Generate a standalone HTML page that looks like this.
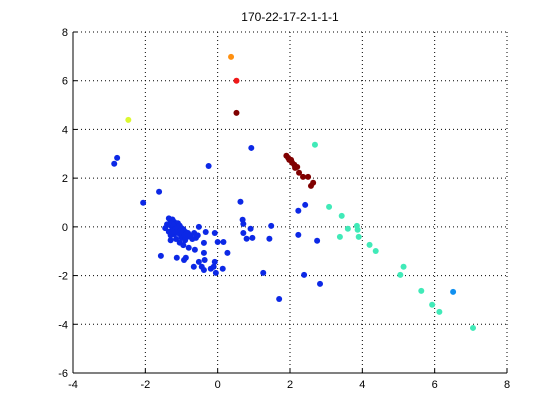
<!DOCTYPE html>
<html><head><meta charset="utf-8"><style>
html,body{margin:0;padding:0;background:#fff;}
svg{display:block;font-family:"Liberation Sans",sans-serif;}
</style></head><body>
<svg id="chart" width="560" height="420">
<rect width="560" height="420" fill="#fff"/>
<text x="290" y="21" font-size="12" text-anchor="middle">170-22-17-2-1-1-1</text>
<g id="grid"></g>
<g id="axes"></g>
<g id="marks"></g>
</svg>
<script>
const xTicks=[-4,-2,0,2,4,6,8];
const yTicks=[-6,-4,-2,0,2,4,6,8];
const blueX=[-1.62,-2.06,-2.78,-2.86,-0.25,0.93,-1.35,-1.3,-1.25,-1.2,-1.4,-1.3,-1.2,-1.1,-1.15,-1.05,-1.0,-1.25,-1.35,-1.1,-0.95,-0.9,-1.2,-1.05,-0.85,-0.8,-1.0,-0.7,-0.75,-0.6,-1.3,-1.45,-0.9,-1.15,-1.3,-0.65,-0.55,-1.05,-0.95,-0.52,-0.33,-0.08,-0.38,0,0.16,0.27,-0.38,-1.57,-1.13,-0.93,-0.88,-0.63,-0.8,-0.52,-0.36,-0.66,-0.44,-0.38,-0.19,-0.11,-0.08,-0.05,0.14,0.63,0.69,0.71,0.91,0.71,0.8,0.96,1.26,1.48,1.43,2.23,2.42,2.23,2.75,2.39,2.83,1.7,-1.28,-1.22,-1.18,-1.12,-1.08,-1.02,-0.98,-0.92,-1.16,-1.24,-0.88,-0.82];
const blueY=[1.44,0.99,2.83,2.59,2.5,3.24,0.35,0.25,0.3,0.2,0.1,0.05,0.1,0.15,0.0,0.05,-0.05,-0.1,-0.2,-0.15,-0.1,-0.2,-0.3,-0.3,-0.3,-0.4,-0.45,-0.5,-0.35,-0.45,-0.35,-0.05,-0.55,-0.5,-0.55,-0.25,-0.35,-0.65,-0.75,0,-0.21,-0.25,-0.66,-0.62,-0.62,-1.07,-1.07,-1.19,-1.27,-1.36,-1.27,-0.94,-0.86,-1.44,-1.36,-1.64,-1.64,-1.77,-1.72,-1.64,-1.44,-1.89,-1.72,1.03,0.29,0.12,-0.08,-0.25,-0.49,-0.45,-1.89,0.04,-0.49,0.66,0.9,-0.33,-0.57,-1.97,-2.34,-2.96,0.15,0.05,-0.1,-0.05,-0.2,-0.15,-0.25,-0.35,-0.2,-0.2,-0.4,-0.25];
const lightBlueX=[6.51];
const lightBlueY=[-2.67];
const tealX=[2.69,3.08,3.43,3.6,3.85,3.87,3.38,3.9,4.2,4.37,5.14,5.05,5.63,5.93,6.13,7.06];
const tealY=[3.37,0.82,0.45,-0.08,0.04,-0.12,-0.41,-0.41,-0.74,-0.99,-1.64,-1.97,-2.63,-3.2,-3.49,-4.15];
const darkRedX=[1.9,1.95,1.98,2.03,2.06,2.12,2.14,2.2,2.25,2.36,2.5,2.58,2.64,0.52];
const darkRedY=[2.92,2.83,2.75,2.75,2.63,2.55,2.42,2.46,2.22,2.05,2.05,1.68,1.81,4.68];
const redX=[0.52];const redY=[6.0];
const orangeX=[0.37];const orangeY=[6.98];
const yellowX=[-2.47];const yellowY=[4.39];

const L=73,R=507,T=32,B=373;
const sx=v=>L+(v+4)/12*(R-L);
const sy=v=>B-(v+6)/14*(B-T);
const NS="http://www.w3.org/2000/svg";
function mk(tag,parent){const e=document.createElementNS(NS,tag);parent.appendChild(e);return e;}
const grid=document.getElementById('grid'),axes=document.getElementById('axes'),marks=document.getElementById('marks');
xTicks.forEach(t=>{
  const x=sx(t);
  if(t>-4){const g=mk('line',grid);
  
  
  g.setAttribute('x1',x);g.setAttribute('x2',x);g.setAttribute('y1',T);g.setAttribute('y2',B);
  g.setAttribute('stroke','#000');g.setAttribute('stroke-width','1');g.setAttribute('stroke-dasharray','1 3');}
  const tk=mk('line',axes);
  
  
  tk.setAttribute('x1',x);tk.setAttribute('x2',x);tk.setAttribute('y1',B);tk.setAttribute('y2',B-4);tk.setAttribute('stroke','#000');
  const tx=mk('text',axes);
  
  
  tx.setAttribute('x',x);tx.setAttribute('y',B+15);tx.setAttribute('font-size','11');tx.setAttribute('text-anchor','middle');
  tx.textContent=t;
});
yTicks.forEach(t=>{
  const y=sy(t);
  if(t>-6){const g=mk('line',grid);
  
  
  g.setAttribute('x1',L);g.setAttribute('x2',R);g.setAttribute('y1',y);g.setAttribute('y2',y);
  g.setAttribute('stroke','#000');g.setAttribute('stroke-width','1');g.setAttribute('stroke-dasharray','1 3');}
  const tk=mk('line',axes);
  
  
  tk.setAttribute('x1',L);tk.setAttribute('x2',L+4);tk.setAttribute('y1',y);tk.setAttribute('y2',y);tk.setAttribute('stroke','#000');
  const tx=mk('text',axes);
  
  
  tx.setAttribute('x',L-5);tx.setAttribute('y',y+4);tx.setAttribute('font-size','11');tx.setAttribute('text-anchor','end');
  tx.textContent=t;
});
const xa=mk('line',axes);


xa.setAttribute('x1',L);xa.setAttribute('x2',R);xa.setAttribute('y1',B);xa.setAttribute('y2',B);xa.setAttribute('stroke','#000');
const ya=mk('line',axes);


ya.setAttribute('x1',L);ya.setAttribute('x2',L);ya.setAttribute('y1',T);ya.setAttribute('y2',B);ya.setAttribute('stroke','#000');
function series(xs,ys,color,name){
  xs.forEach((v,i)=>{
    const c=mk('circle',marks);
    
    
    c.setAttribute('cx',sx(v));c.setAttribute('cy',sy(ys[i]));c.setAttribute('r','3');c.setAttribute('fill',color);
  });
}
series(blueX,blueY,'#0c28e6','blue-point');
series(lightBlueX,lightBlueY,'#1090f0','light-blue-point');
series(tealX,tealY,'#40eab8','teal-point');
series(darkRedX,darkRedY,'#800000','dark-red-point');
series(redX,redY,'#f01818','red-point');
series(orangeX,orangeY,'#ff9010','orange-point');
series(yellowX,yellowY,'#dcf830','yellow-point');
</script>
</body></html>
